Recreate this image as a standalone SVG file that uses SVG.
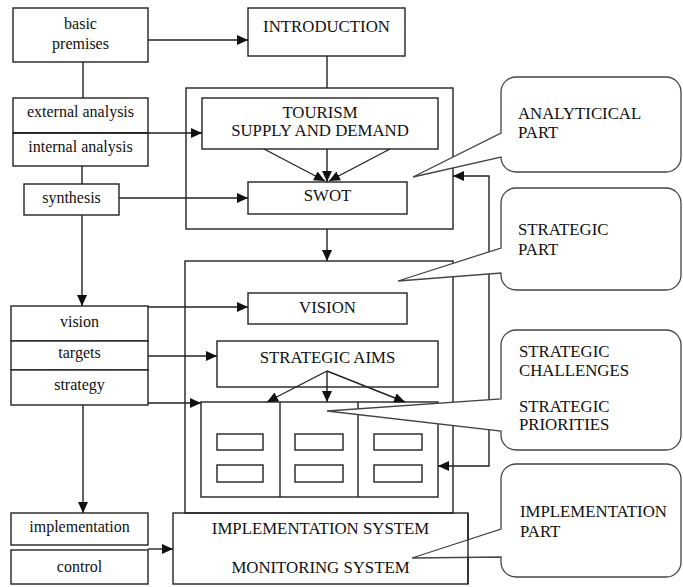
<svg xmlns="http://www.w3.org/2000/svg" width="683" height="587" viewBox="0 0 683 587" font-family="'Liberation Serif', 'Times New Roman', serif">
<style>
.box{fill:#fff;stroke:#222;stroke-width:1.4}
.ln{fill:none;stroke:#222;stroke-width:1.4}
.co{fill:#fff;stroke:#444;stroke-width:1.3;stroke-linejoin:miter}
text{font-family:'Liberation Serif', 'Times New Roman', serif;font-size:16.8px;fill:#111}
.c{text-anchor:middle}
.lc{font-size:16px}
</style>
<defs>
<marker id="ah" markerUnits="userSpaceOnUse" markerWidth="11" markerHeight="10" refX="11" refY="5" orient="auto-start-reverse">
<path d="M0,0 L11,5 L0,10 Z" fill="#111"/>
</marker>
</defs>
<rect width="683" height="587" fill="#fff"/>

<g id="impl-system">
<rect class="box" x="173" y="513" width="295" height="71"/>
<text class="c" x="320.5" y="534">IMPLEMENTATION SYSTEM</text>
<text class="c" x="320.5" y="573">MONITORING SYSTEM</text>
</g>

<g id="analytical-frame"><rect class="ln" x="186" y="88" width="267" height="141"/></g>
<g id="strategic-frame"><rect class="ln" x="185" y="261" width="268" height="252"/></g>

<g id="basic-premises">
<rect class="box" x="13" y="8" width="135" height="54"/>
<text class="c lc" x="80.5" y="29">basic</text>
<text class="c lc" x="80.5" y="49">premises</text>
</g>
<g id="external-analysis">
<rect class="box" x="13" y="98" width="135" height="35"/>
<text class="c lc" x="80.5" y="117">external analysis</text>
</g>
<g id="internal-analysis">
<rect class="box" x="13" y="133" width="135" height="33"/>
<text class="c lc" x="80.5" y="152">internal analysis</text>
</g>
<g id="synthesis">
<rect class="box" x="24" y="184" width="95" height="31"/>
<text class="c lc" x="71.5" y="203">synthesis</text>
</g>
<g id="vision-l">
<rect class="box" x="11" y="306" width="137" height="35"/>
<text class="c lc" x="79.5" y="327">vision</text>
</g>
<g id="targets">
<rect class="box" x="11" y="341" width="137" height="29"/>
<text class="c lc" x="79.5" y="358">targets</text>
</g>
<g id="strategy">
<rect class="box" x="11" y="370" width="137" height="35"/>
<text class="c lc" x="79.5" y="390">strategy</text>
</g>
<g id="implementation">
<rect class="box" x="11" y="513" width="137" height="32"/>
<text class="c lc" x="79.5" y="532">implementation</text>
</g>
<g id="control">
<rect class="box" x="11" y="550" width="137" height="34"/>
<text class="c lc" x="79.5" y="572">control</text>
</g>

<g id="introduction">
<rect class="box" x="248" y="8" width="157" height="48"/>
<text class="c" x="326.5" y="32">INTRODUCTION</text>
</g>
<g id="tourism">
<rect class="box" x="202" y="98" width="236" height="51"/>
<text class="c" x="320" y="118">TOURISM</text>
<text class="c" x="320" y="136">SUPPLY AND DEMAND</text>
</g>
<g id="swot">
<rect class="box" x="248" y="182" width="159" height="32"/>
<text class="c" x="327.5" y="201">SWOT</text>
</g>
<g id="vision">
<rect class="box" x="248" y="293" width="159" height="31"/>
<text class="c" x="327.5" y="313">VISION</text>
</g>
<g id="strategic-aims">
<rect class="box" x="217" y="341" width="221" height="46"/>
<text class="c" x="327.5" y="363">STRATEGIC AIMS</text>
</g>
<g id="grid">
<rect class="box" x="201" y="402" width="237" height="95"/>
<path class="ln" d="M280,402 V497 M358,402 V497"/>
<rect class="box" x="217" y="434" width="46" height="16"/>
<rect class="box" x="217" y="465" width="46" height="17"/>
<rect class="box" x="295" y="434" width="48" height="16"/>
<rect class="box" x="295" y="465" width="48" height="17"/>
<rect class="box" x="374" y="434" width="48" height="16"/>
<rect class="box" x="374" y="465" width="48" height="17"/>
</g>

<g id="connectors">
<path class="ln" d="M148,40 H248" marker-end="url(#ah)"/>
<path class="ln" d="M83,62 V98"/>
<path class="ln" d="M13,133 H202" marker-end="url(#ah)" stroke-width="2"/>
<path class="ln" d="M82,166 V184"/>
<path class="ln" d="M119,198 H248" marker-end="url(#ah)"/>
<path class="ln" d="M82,215 V306" marker-end="url(#ah)"/>
<path class="ln" d="M327,56 V88"/>
<path class="ln" d="M264,149 L325,181" marker-end="url(#ah)"/>
<path class="ln" d="M327,149 V182" marker-end="url(#ah)"/>
<path class="ln" d="M390,149 L329,181" marker-end="url(#ah)"/>
<path class="ln" d="M327,229 V261" marker-end="url(#ah)"/>
<path class="ln" d="M148,307 H248" marker-end="url(#ah)"/>
<path class="ln" d="M148,356 H217" marker-end="url(#ah)"/>
<path class="ln" d="M148,403 H201" marker-end="url(#ah)"/>
<path class="ln" d="M327,371 L267,402" marker-end="url(#ah)"/>
<path class="ln" d="M327,371 V402" marker-end="url(#ah)"/>
<path class="ln" d="M327,371 L405,402" marker-end="url(#ah)"/>
<path class="ln" d="M83,405 V513" marker-end="url(#ah)"/>
<path class="ln" d="M148,549 H173" marker-end="url(#ah)"/>
<path class="ln" d="M453,176 H489 V466 H438" marker-start="url(#ah)" marker-end="url(#ah)" stroke="#555"/>
</g>

<g id="callout-analytical">
<path class="co" d="M516,77 H666 A15,15 0 0 1 681,92 V157 A15,15 0 0 1 666,172 H516 A15,15 0 0 1 501,157 L413,177 L501,133 V92 A15,15 0 0 1 516,77 Z"/>
<text x="518" y="119">ANALYTICICAL</text>
<text x="518" y="138">PART</text>
</g>
<g id="callout-strategic">
<path class="co" d="M516,188 H666 A15,15 0 0 1 681,203 V275 A15,15 0 0 1 666,290 H516 A15,15 0 0 1 501,275 V273 L398,281 L501,248 V203 A15,15 0 0 1 516,188 Z"/>
<text x="518" y="235">STRATEGIC</text>
<text x="518" y="255">PART</text>
</g>
<g id="callout-challenges">
<path class="co" d="M516,330 H666 A15,15 0 0 1 681,345 V435 A15,15 0 0 1 666,450 H516 A15,15 0 0 1 501,435 V431 L327,411 L501,399 V345 A15,15 0 0 1 516,330 Z"/>
<text x="519" y="357">STRATEGIC</text>
<text x="519" y="376">CHALLENGES</text>
<text x="519" y="412">STRATEGIC</text>
<text x="519" y="430">PRIORITIES</text>
</g>
<g id="callout-implementation">
<path class="co" d="M516,464 H666 A15,15 0 0 1 681,479 V562 A15,15 0 0 1 666,577 H516 A15,15 0 0 1 501,562 V557 L412,558 L501,529 V479 A15,15 0 0 1 516,464 Z"/>
<path class="ln" d="M468,513 V584"/>
<text x="520" y="517">IMPLEMENTATION</text>
<text x="520" y="537">PART</text>
</g>
</svg>
